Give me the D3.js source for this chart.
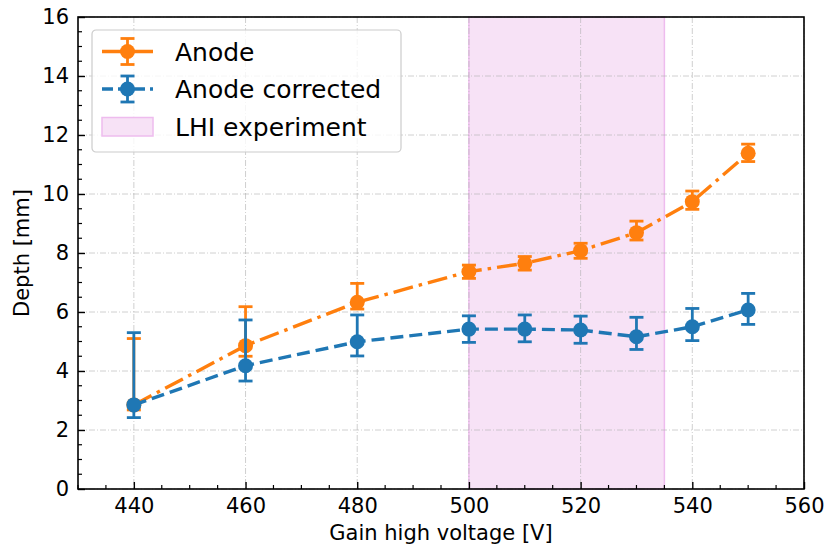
<!DOCTYPE html>
<html>
<head>
<meta charset="utf-8">
<script src="https://cdn.jsdelivr.net/npm/d3@7"></script>
<style>
  body { margin: 0; background: #fff; }
  text { font-family: "DejaVu Sans", sans-serif; fill: #000; }
</style>
</head>
<body>
<div id="chart"></div>
<script>
// values
var voltage = [440, 460, 480, 500, 510, 520, 530, 540, 550];
var anode = [2.85, 4.86, 6.33, 7.37, 7.65, 8.08, 8.69, 9.74, 11.38];
var anodeLow = [2.68, 4.5, 6.1, 7.14, 7.42, 7.82, 8.44, 9.48, 11.1];
var anodeHigh = [5.1, 6.18, 6.97, 7.59, 7.88, 8.33, 9.08, 10.1, 11.69];
var corrected = [2.85, 4.18, 4.99, 5.42, 5.42, 5.39, 5.16, 5.5, 6.07];
var correctedLow = [2.42, 3.66, 4.51, 4.97, 4.99, 4.94, 4.73, 5.03, 5.58];
var correctedHigh = [5.3, 5.73, 5.9, 5.87, 5.9, 5.86, 5.82, 6.12, 6.63];
var lhiSpan = [500, 535];
var xTicks = [440, 460, 480, 500, 520, 540, 560];
var yTicks = [0, 2, 4, 6, 8, 10, 12, 14, 16];
var seriesNames = ["Anode", "Anode corrected", "LHI experiment"];

var W = 828, H = 551;
var m = {left: 78, top: 17, right: 24, bottom: 62};
var iw = W - m.left - m.right, ih = H - m.top - m.bottom;

var svg = d3.select("#chart").append("svg")
  .attr("width", W).attr("height", H);
var g = svg.append("g").attr("transform", "translate(" + m.left + "," + m.top + ")");

var x = d3.scaleLinear().domain([430, 560]).range([0, iw]);
var y = d3.scaleLinear().domain([0, 16]).range([ih, 0]);

var spanFill = "#f7e2f6", spanEdge = "#eebcee";
var lineW = 3.4, barW = 2.8, capHalf = 7, markR = 7.5;

// shaded region
g.append("rect")
  .attr("x", x(lhiSpan[0])).attr("y", 0)
  .attr("width", x(lhiSpan[1]) - x(lhiSpan[0])).attr("height", ih)
  .attr("fill", spanFill).attr("stroke", spanEdge).attr("stroke-width", 1.5);

// grid
g.append("g").selectAll("line").data(xTicks).enter().append("line")
  .attr("x1", function(d) { return x(d); }).attr("x2", function(d) { return x(d); })
  .attr("y1", 0).attr("y2", ih)
  .attr("stroke", "#b0b0b0").attr("stroke-opacity", 0.6).attr("stroke-width", 1)
  .attr("stroke-dasharray", "6,2,1,2");
g.append("g").selectAll("line").data(yTicks).enter().append("line")
  .attr("y1", function(d) { return y(d); }).attr("y2", function(d) { return y(d); })
  .attr("x1", 0).attr("x2", iw)
  .attr("stroke", "#b0b0b0").attr("stroke-opacity", 0.6).attr("stroke-width", 1)
  .attr("stroke-dasharray", "6,2,1,2");

// axes with inward ticks
var xMinor = d3.range(430, 561, 5).filter(function(d) { return xTicks.indexOf(d) < 0; });
var yMinor = d3.range(0, 16.01, 0.5).filter(function(d) { return d % 2 !== 0; });

var xAxis = g.append("g").attr("transform", "translate(0," + ih + ")")
  .call(d3.axisBottom(x).tickValues(xTicks).tickSizeInner(-7).tickSizeOuter(0).tickPadding(9));
xAxis.append("g").selectAll("line").data(xMinor).enter().append("line")
  .attr("x1", function(d) { return x(d); }).attr("x2", function(d) { return x(d); })
  .attr("y1", 0).attr("y2", -4).attr("stroke", "#000").attr("stroke-width", 1.2);

var yAxis = g.append("g")
  .call(d3.axisLeft(y).tickValues(yTicks).tickSizeInner(-7).tickSizeOuter(0).tickPadding(9));
yAxis.append("g").selectAll("line").data(yMinor).enter().append("line")
  .attr("y1", function(d) { return y(d); }).attr("y2", function(d) { return y(d); })
  .attr("x1", 0).attr("x2", 4).attr("stroke", "#000").attr("stroke-width", 1.2);

[xAxis, yAxis].forEach(function(a) {
  a.select(".domain").remove();
  a.selectAll(".tick line").attr("stroke-width", 1.4);
  a.selectAll(".tick text").attr("font-size", 21).attr("font-family", "DejaVu Sans");
});

// series
function drawSeries(vals, lo, hi, color, dash) {
  var s = g.append("g");
  var pts = voltage.map(function(v, i) { return {x: v, y: vals[i], lo: lo[i], hi: hi[i]}; });
  s.selectAll(".bar").data(pts).enter().append("line")
    .attr("x1", function(d) { return x(d.x); }).attr("x2", function(d) { return x(d.x); })
    .attr("y1", function(d) { return y(d.lo); }).attr("y2", function(d) { return y(d.hi); })
    .attr("stroke", color).attr("stroke-width", barW);
  ["lo", "hi"].forEach(function(k) {
    s.selectAll(".cap" + k).data(pts).enter().append("line")
      .attr("x1", function(d) { return x(d.x) - capHalf; }).attr("x2", function(d) { return x(d.x) + capHalf; })
      .attr("y1", function(d) { return y(d[k]); }).attr("y2", function(d) { return y(d[k]); })
      .attr("stroke", color).attr("stroke-width", barW);
  });
  s.append("path").datum(pts)
    .attr("d", d3.line().x(function(d) { return x(d.x); }).y(function(d) { return y(d.y); }))
    .attr("fill", "none").attr("stroke", color).attr("stroke-width", lineW)
    .attr("stroke-dasharray", dash);
  s.selectAll("circle").data(pts).enter().append("circle")
    .attr("cx", function(d) { return x(d.x); }).attr("cy", function(d) { return y(d.y); })
    .attr("r", markR).attr("fill", color);
}
drawSeries(anode, anodeLow, anodeHigh, "#ff7f0e", "20,6,3.5,6");
drawSeries(corrected, correctedLow, correctedHigh, "#1f77b4", "13,6");

// frame
g.append("rect").attr("width", iw).attr("height", ih)
  .attr("fill", "none").attr("stroke", "#000").attr("stroke-width", 1.6);

// labels
svg.append("text").attr("x", m.left + iw / 2).attr("y", 540)
  .attr("text-anchor", "middle").attr("font-size", 21).text("Gain high voltage [V]");
svg.append("text")
  .attr("transform", "translate(29," + (m.top + ih / 2) + ") rotate(-90)")
  .attr("text-anchor", "middle").attr("font-size", 21).text("Depth [mm]");

// legend
var lg = svg.append("g").attr("transform", "translate(92,30)");
lg.append("rect").attr("width", 309).attr("height", 122).attr("rx", 4)
  .attr("fill", "#fff").attr("fill-opacity", 0.8)
  .attr("stroke", "#cccccc").attr("stroke-width", 1.2);
var handles = [
  {color: "#ff7f0e", dash: null},
  {color: "#1f77b4", dash: "11,5"}
];
handles.forEach(function(h, i) {
  var cy = 21.5 + i * 37.5;
  lg.append("line").attr("x1", 10).attr("x2", 61).attr("y1", cy).attr("y2", cy)
    .attr("stroke", h.color).attr("stroke-width", lineW).attr("stroke-dasharray", h.dash);
  lg.append("line").attr("x1", 35.5).attr("x2", 35.5).attr("y1", cy - 13).attr("y2", cy + 13)
    .attr("stroke", h.color).attr("stroke-width", barW);
  [-13, 13].forEach(function(o) {
    lg.append("line").attr("x1", 35.5 - capHalf).attr("x2", 35.5 + capHalf).attr("y1", cy + o).attr("y2", cy + o)
      .attr("stroke", h.color).attr("stroke-width", barW);
  });
  lg.append("circle").attr("cx", 35.5).attr("cy", cy).attr("r", markR).attr("fill", h.color);
});
lg.append("rect").attr("x", 10).attr("y", 87.5).attr("width", 51).attr("height", 18.5)
  .attr("fill", spanFill).attr("stroke", spanEdge).attr("stroke-width", 1.5);
seriesNames.forEach(function(n, i) {
  lg.append("text").attr("x", 83).attr("y", 21.5 + i * 37.5).attr("dy", "0.36em")
    .attr("font-size", 25).text(n);
});
</script>
</body>
</html>
